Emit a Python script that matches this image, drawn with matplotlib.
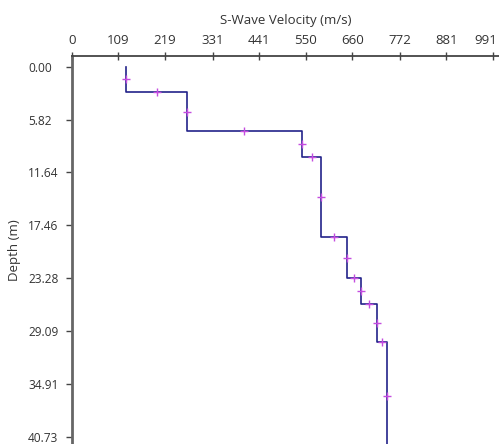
import numpy as np
import matplotlib
matplotlib.use("Agg")
import matplotlib.pyplot as plt
from matplotlib.transforms import ScaledTranslation

# Layered S-wave velocity model (velocity in m/s, layer top / bottom in m)
velocidades = [128, 270, 542, 586, 647, 681, 717, 741]
topos = [0.0, 2.82, 7.08, 9.91, 18.75, 23.29, 26.09, 30.34]
base_final = 42.06

x_ticks = [0, 109, 219, 331, 441, 550, 660, 772, 881, 991]
y_ticks = [0.00, 5.82, 11.64, 17.46, 23.28, 29.09, 34.91, 40.73]

plt.rcParams['font.family'] = ['Open Sans', 'DejaVu Sans']
fs = 9.5

v = np.array(velocidades, dtype=float)
z_top = np.array(topos)
z_bot = np.append(z_top[1:], base_final)

# Build the staircase path: down each layer, then across to the next
px, pz = [], []
for i in range(len(v)):
    px += [v[i], v[i]]
    pz += [z_top[i], z_bot[i]]

# '+' markers at the middle of every vertical and horizontal segment
mx = list(v)
mz = list((z_top + z_bot) / 2)
mx += list((v[:-1] + v[1:]) / 2)
mz += list(z_bot[:-1])

fig = plt.figure(figsize=(4.99, 4.44), dpi=100)
ax = fig.add_axes([72 / 499, 0.0, 1 - 72 / 499, 1 - 56.5 / 444])

ax.plot(px, pz, color='#23238a', linewidth=1.2, zorder=2)
ax.plot(mx, mz, linestyle='none', marker='+', markersize=6,
        markeredgewidth=1.0, color='#c44de0', zorder=3)

ax.set_xlim(0, 1005)
ax.set_ylim(41.53, -1.12)

ax.xaxis.tick_top()
ax.xaxis.set_label_position('top')
ax.set_xticks(x_ticks)
ax.set_xticklabels([str(t) for t in x_ticks])
ax.set_yticks(y_ticks)
ax.set_yticklabels([f"{t:.2f}" for t in y_ticks], ha='left')

ax.set_xlabel('S-Wave Velocity (m/s)', fontsize=fs, color='#333333', labelpad=7)
ax.set_ylabel('Depth (m)', fontsize=fs, color='#333333')
ax.yaxis.set_label_coords(-0.119, 0.5)

ax.tick_params(axis='x', direction='inout', length=6, width=1, color='#444444',
               labelsize=fs, labelcolor='#333333', pad=4)
# depth labels are left-aligned in a column
ax.tick_params(axis='y', direction='out', length=4, width=1, color='#444444',
               labelsize=8.6, labelcolor='#333333', pad=27.5)

# keep the last top label inside the figure
last = ax.get_xticklabels()[-1]
last.set_transform(last.get_transform() + ScaledTranslation(-5 / 72, 0, fig.dpi_scale_trans))

for s in ['right', 'bottom']:
    ax.spines[s].set_visible(False)
ax.spines['top'].set_color('#444444')
ax.spines['top'].set_linewidth(1.3)
ax.spines['left'].set_color('#666666')
ax.spines['left'].set_linewidth(2.0)

fig.savefig('out.png', dpi=100)
